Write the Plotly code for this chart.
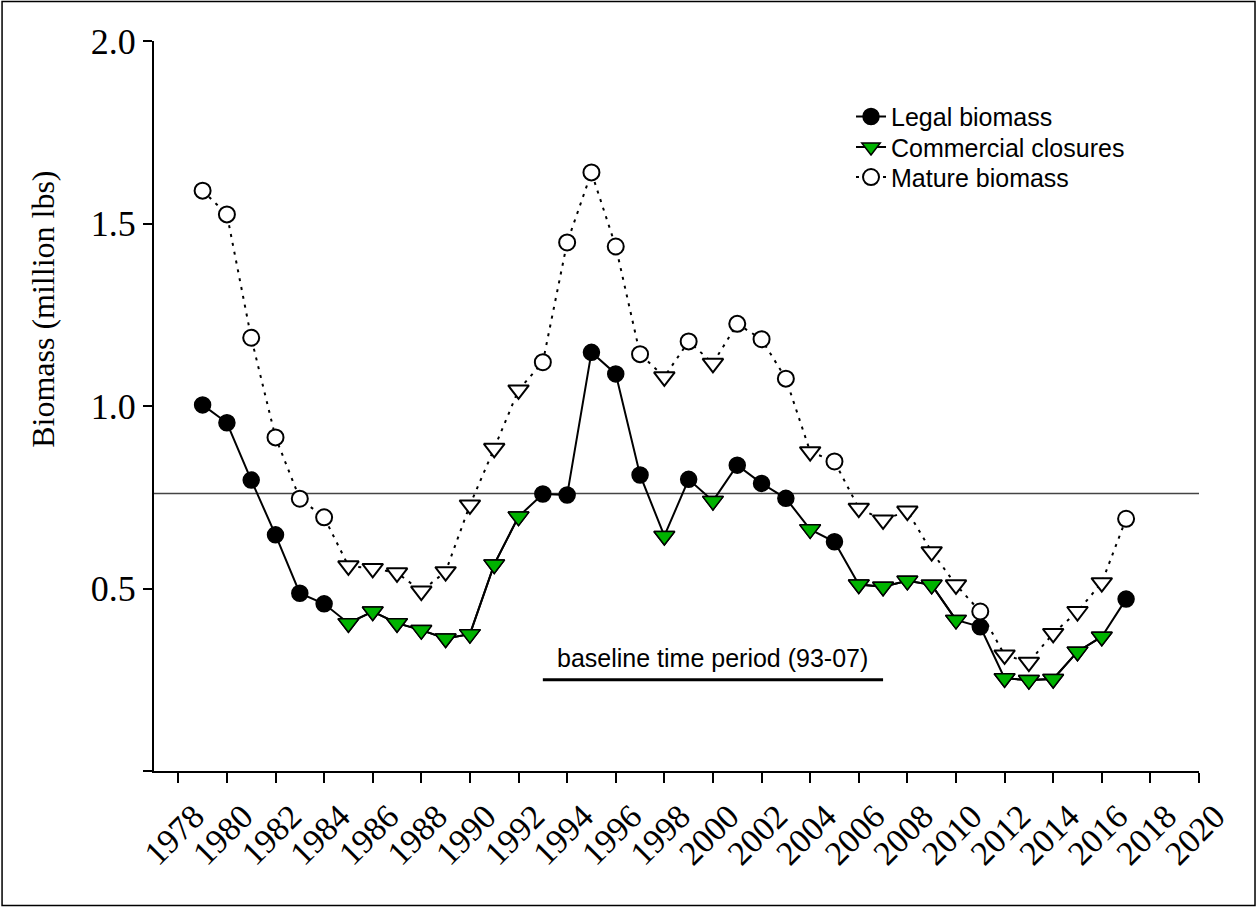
import plotly.graph_objects as go

years = list(range(1979, 2018))
legal = [1.003, 0.954, 0.797, 0.647, 0.487, 0.458, 0.405, 0.437, 0.405, 0.386,
         0.363, 0.375, 0.566, 0.697, 0.759, 0.756, 1.147, 1.088, 0.811, 0.644,
         0.799, 0.740, 0.838, 0.788, 0.747, 0.662, 0.628, 0.511, 0.505, 0.521,
         0.510, 0.414, 0.395, 0.254, 0.249, 0.252, 0.327, 0.368, 0.471]
mature = [1.590, 1.525, 1.187, 0.914, 0.746, 0.695, 0.562, 0.555, 0.543, 0.493,
          0.546, 0.729, 0.884, 1.044, 1.120, 1.448, 1.640, 1.437, 1.142, 1.080,
          1.177, 1.117, 1.225, 1.183, 1.075, 0.875, 0.848, 0.720, 0.688, 0.712,
          0.601, 0.510, 0.437, 0.318, 0.298, 0.377, 0.437, 0.516, 0.691]
closure_years = [1985, 1986, 1987, 1988, 1989, 1990, 1991, 1992, 1998, 2000, 2004,
                 2006, 2007, 2008, 2009, 2010, 2012, 2013, 2014, 2015, 2016]
baseline_value = 0.76
baseline_years = [1993, 2007]
baseline_bar_y = [0.25, 0.25]
baseline_label = "baseline time period (93-07)"
y_title = "Biomass (million lbs)"
x_ticks = list(range(1978, 2021, 2))
y_ticks = [0, 0.5, 1.0, 1.5, 2.0]
y_tick_text = ["", "0.5", "1.0", "1.5", "2.0"]

GREEN = "#00b300"
SERIF = "Liberation Serif, Times New Roman, serif"
SANS = "Liberation Sans, Arial, sans-serif"
is_closed = [y in closure_years for y in years]
symbols = ["triangle-down" if c else "circle" for c in is_closed]
sizes = [18 if c else 16 for c in is_closed]

fig = go.Figure()

# Legal biomass (solid, filled black circles; green triangles in closure years)
fig.add_trace(go.Scatter(
    x=years, y=legal, mode="lines+markers", name="Legal biomass", legend="legend",
    line=dict(color="black", width=2),
    marker=dict(symbol=symbols, size=sizes, opacity=1,
                color=[GREEN if c else "black" for c in is_closed],
                line=dict(color="black", width=1.5)),
))

# Commercial closures (green triangles on legal biomass line)
fig.add_trace(go.Scatter(
    x=years, y=[v if c else None for v, c in zip(legal, is_closed)],
    mode="lines+markers", name="Commercial closures", legend="legend2", connectgaps=False,
    line=dict(color="black", width=2),
    marker=dict(symbol="triangle-down", size=18, color=GREEN, opacity=1,
                line=dict(color="black", width=1.5)),
))

# Mature biomass (dotted, open markers; open triangles in closure years)
fig.add_trace(go.Scatter(
    x=years, y=mature, mode="lines+markers", name="Mature biomass", legend="legend3",
    line=dict(color="black", width=2, dash="3px,6px"),
    marker=dict(symbol=symbols, size=sizes, opacity=1,
                color="white", line=dict(color="black", width=2)),
))

# Baseline period bar
fig.add_trace(go.Scatter(
    x=baseline_years, y=baseline_bar_y, mode="lines", showlegend=False,
    line=dict(color="black", width=3), hoverinfo="skip",
))

fig.add_annotation(x=sum(baseline_years) / 2, y=baseline_bar_y[0], yshift=6,
                   yanchor="bottom", text=baseline_label, showarrow=False,
                   font=dict(family=SANS, size=25, color="black"))

fig.add_annotation(xref="paper", yref="paper", x=-0.107, y=0.632,
                   text=y_title, textangle=-90, showarrow=False,
                   xanchor="center", yanchor="middle",
                   font=dict(family=SERIF, size=32, color="black"))

fig.add_shape(type="line", xref="paper", x0=0, x1=1, yref="y",
              y0=baseline_value, y1=baseline_value,
              line=dict(color="#444444", width=1.5), layer="below")

# outer border
fig.add_shape(type="rect", xref="paper", yref="paper",
              x0=-0.1454, x1=1.0536, y0=-0.1842, y1=1.0541,
              line=dict(color="black", width=1.5))

legend_style = dict(x=0.667, xanchor="left", yanchor="middle",
                    font=dict(family=SANS, size=25, color="black"),
                    bgcolor="rgba(0,0,0,0)")

fig.update_layout(
    width=1257, height=907,
    margin=dict(l=154, r=58, t=41, b=136),
    paper_bgcolor="white", plot_bgcolor="white",
    showlegend=True,
    legend=dict(legend_style, y=0.8963),
    legend2=dict(legend_style, y=0.8544),
    legend3=dict(legend_style, y=0.8133),
    font=dict(family=SERIF, color="black"),
)

fig.update_xaxes(range=[1977, 2020], tickvals=x_ticks, ticktext=[str(t) for t in x_ticks],
                 tickangle=-45, ticks="outside", ticklen=10, tickwidth=2, tickcolor="black",
                 ticklabelshift=16,
                 showline=True, linecolor="black", linewidth=2, showgrid=False, zeroline=False,
                 tickfont=dict(family=SERIF, size=34, color="black"))
fig.update_yaxes(range=[0, 2.0], tickvals=y_ticks, ticktext=y_tick_text,
                 ticks="outside", ticklen=9, tickwidth=2, tickcolor="black",
                 showline=True, linecolor="black", linewidth=2, showgrid=False, zeroline=False,
                 tickfont=dict(family=SERIF, size=36, color="black"))

fig.write_html("out.html", config={"displayModeBar": False},
               post_script="document.body.style.margin='0';document.body.style.padding='0';")
